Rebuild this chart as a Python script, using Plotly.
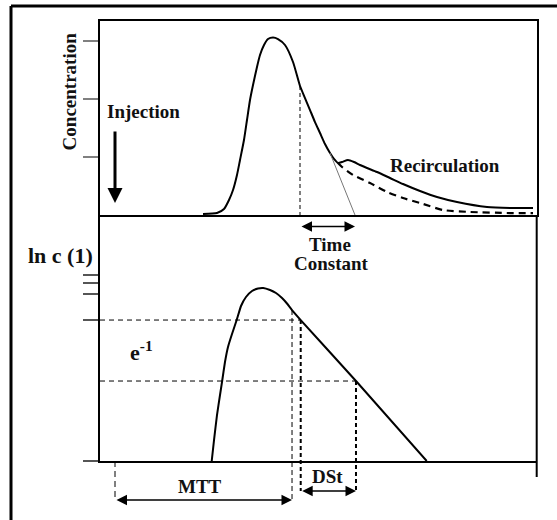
import plotly.graph_objects as go

# ---------------- data (schematic, arbitrary units) ----------------
# Upper panel: concentration-time curve with recirculation
conc_t = [23.59, 26.79, 28.39, 29.54, 30.46, 31.37, 32.06, 32.97, 33.66, 34.35,
          35.04, 35.95, 36.64, 37.56, 38.47, 39.62, 40.76, 42.36, 44.20,
          45.80, 46.94, 48.09, 49.23, 50.38, 51.52, 52.67, 53.58, 54.50, 55.42,
          56.79, 58.16, 59.54, 61.14, 63.43, 66.41, 69.38, 73.28, 77.17, 81.75,
          88.62, 93.89, 99.15]
conc_c = [0.017, 0.034, 0.103, 0.259, 0.431, 0.690, 0.948, 1.293, 1.638, 1.983,
          2.241, 2.552, 2.759, 2.931, 3.034, 3.060, 3.034, 2.931, 2.638,
          2.224, 2.017, 1.810, 1.603, 1.414, 1.224, 1.069, 0.966, 0.897, 0.914,
          0.948, 0.914, 0.862, 0.810, 0.741, 0.638, 0.534, 0.414, 0.310, 0.224,
          0.138, 0.121, 0.121]
# first-pass curve without recirculation (dashed)
firstpass_t = [54.50, 55.42, 57.93, 61.83, 65.72, 69.38, 73.28, 78.54, 84.73, 93.89, 99.15]
firstpass_c = [0.897, 0.828, 0.690, 0.552, 0.397, 0.293, 0.207, 0.086, 0.052, 0.034, 0.034]
# tangent (time constant construction)
tangent_t = [52.67, 58.39]
tangent_c = [1.069, 0.0]
conc_ticks = [1, 2, 3]

# Lower panel: ln c versus time
ln_t = [25.58, 26.11, 26.79, 27.48, 27.94, 28.62, 29.31, 30.23, 31.30, 32.29,
        33.43, 34.81, 36.18, 37.39, 38.93, 40.30, 41.68, 42.82, 43.97, 45.96,
        58.62, 74.81]
ln_c = [0.0, 0.344, 0.754, 1.082, 1.295, 1.623, 1.869, 2.082, 2.311, 2.541,
        2.689, 2.787, 2.828, 2.836, 2.803, 2.754, 2.672, 2.582, 2.475, 2.311,
        1.311, 0.0]
ln_ticks = [0, 2.311, 2.738, 2.918, 3.049]

# characteristic times / levels
t_inject = 3.435
t_mtt = 43.97
ln_mtt = 2.475
t_dst0, ln_dst0 = 45.96, 2.311
t_dst1, ln_dst1 = 58.62, 1.311
t_tc0, c_tc0 = 45.80, 2.224
t_tc1 = 58.39
inject_top, inject_tip = 1.466, 0.207
row_tc, row_mtt, row_dst = 3.844, -0.639, -0.492

# ---------------- layout geometry ----------------
W, H = 557, 520
x_dom = [100 / W, 536.7 / W]
up_dom = [(H - 215) / H, (H - 21) / H]
lo_dom = [(H - 461) / H, (H - 215) / H]
x_range = [0, 100]
up_range = [0, 3.345]
lo_range = [0, 4.033]
ppu = (lo_dom[1] - lo_dom[0]) * H / (lo_range[1] - lo_range[0])
ov_range = [lo_range[0] - lo_dom[0] * H / ppu, lo_range[1] + (1 - lo_dom[1]) * H / ppu]

FONT = "Liberation Serif"
TXT = "#111111"

fig = go.Figure()

# upper panel
fig.add_trace(go.Scatter(x=conc_t, y=conc_c, mode="lines", xaxis="x", yaxis="y",
                         line=dict(color="black", width=2, shape="spline", smoothing=0.6)))
fig.add_trace(go.Scatter(x=firstpass_t, y=firstpass_c, mode="lines", xaxis="x", yaxis="y",
                         line=dict(color="black", width=2.2, dash="7px,5px", shape="spline", smoothing=0.6)))
fig.add_trace(go.Scatter(x=tangent_t, y=tangent_c, mode="lines", xaxis="x", yaxis="y",
                         line=dict(color="#777777", width=1)))
fig.add_trace(go.Scatter(x=[t_tc0, t_tc0], y=[c_tc0, 0], mode="lines", xaxis="x", yaxis="y",
                         line=dict(color="black", width=1, dash="4px,3px")))

# lower panel
fig.add_trace(go.Scatter(x=ln_t, y=ln_c, mode="lines", xaxis="x2", yaxis="y2",
                         line=dict(color="black", width=2, shape="spline", smoothing=0.4)))
fig.add_trace(go.Scatter(x=[0, t_dst0], y=[ln_dst0, ln_dst0], mode="lines", xaxis="x2", yaxis="y2",
                         line=dict(color="black", width=1, dash="5px,4px")))
fig.add_trace(go.Scatter(x=[0, t_dst1], y=[ln_dst1, ln_dst1], mode="lines", xaxis="x2", yaxis="y2",
                         line=dict(color="black", width=1, dash="5px,4px")))

# overlay guides (extend below the lower panel)
fig.add_trace(go.Scatter(x=[t_mtt, t_mtt], y=[ln_mtt, row_mtt], mode="lines", xaxis="x3", yaxis="y3",
                         line=dict(color="black", width=1, dash="5px,3px")))
fig.add_trace(go.Scatter(x=[t_inject, t_inject], y=[0, row_mtt], mode="lines", xaxis="x3", yaxis="y3",
                         line=dict(color="black", width=1, dash="6px,4px")))
fig.add_trace(go.Scatter(x=[t_dst0, t_dst0], y=[ln_dst0, row_dst], mode="lines", xaxis="x3", yaxis="y3",
                         line=dict(color="black", width=2, dash="4px,3px")))
fig.add_trace(go.Scatter(x=[t_dst1, t_dst1], y=[ln_dst1, row_dst], mode="lines", xaxis="x3", yaxis="y3",
                         line=dict(color="black", width=2, dash="4px,3px")))

ann = []
def arrow(x0, x1, y, xr, yr, both=True, w=1.5):
    ann.append(dict(x=x1, y=y, ax=x0, ay=y, xref=xr, yref=yr, axref=xr, ayref=yr,
                    showarrow=True, arrowhead=2, arrowsize=1.4, arrowwidth=w,
                    arrowside="end+start" if both else "end", standoff=0, startstandoff=0,
                    arrowcolor="black", text=""))

arrow(t_tc0, t_tc1, row_tc, "x3", "y3")
arrow(t_inject, t_mtt, row_mtt, "x3", "y3")
arrow(t_dst0, t_dst1, row_dst, "x3", "y3")
ann.append(dict(x=t_inject, y=inject_tip, ax=t_inject, ay=inject_top, xref="x", yref="y",
                axref="x", ayref="y", showarrow=True, arrowhead=2, arrowsize=1, arrowwidth=3,
                standoff=0, arrowcolor="black", text=""))

def label(text, x, y, xr, yr, size=19, xanchor="center", angle=0):
    ann.append(dict(text=text, x=x, y=y, xref=xr, yref=yr, showarrow=False,
                    xanchor=xanchor, yanchor="middle", textangle=angle,
                    font=dict(family=FONT, size=size, color=TXT, weight="bold")))

label("Concentration", 69.7 / W, 1 - 91.7 / H, "paper", "paper", angle=-90)
label("Injection", 1.2, 1.776, "x", "y", xanchor="left")
label("Recirculation", 65.95, 0.862, "x", "y", xanchor="left")
label("Time", 52.67, 3.557, "x3", "y3")
label("Constant", 52.9, 3.246, "x3", "y3")
label("ln c (1)", 60 / W, 1 - 255 / H, "paper", "paper", size=22)
label("e<sup>-1</sup>", 9.55, 1.803, "x2", "y2", size=22)
label("MTT", 22.9, -0.421, "x3", "y3")
label("DSt", 52.1, -0.257, "x3", "y3")
label("t", 100.07, -0.475, "x3", "y3", size=21)

shapes = [
    # outer frame (left and top)
    dict(type="line", xref="paper", yref="paper", x0=11 / W, x1=11 / W, y0=0, y1=1 - 6 / H,
         line=dict(color="black", width=3)),
    dict(type="line", xref="paper", yref="paper", x0=11 / W, x1=1, y0=1 - 6 / H, y1=1 - 6 / H,
         line=dict(color="black", width=3)),
    # right edge of lower panel continuing to the t mark
    dict(type="line", xref="paper", yref="paper", x0=x_dom[1], x1=x_dom[1], y0=(H - 477) / H, y1=lo_dom[1],
         line=dict(color="black", width=2)),
]

ax_common = dict(showgrid=False, zeroline=False, showticklabels=False)
fig.update_layout(
    width=W, height=H, autosize=False,
    margin=dict(l=0, r=0, t=0, b=0),
    paper_bgcolor="white", plot_bgcolor="rgba(0,0,0,0)",
    showlegend=False,
    xaxis=dict(domain=x_dom, range=x_range, anchor="y", showline=True, mirror=True,
               linecolor="black", linewidth=2, ticks="", **ax_common),
    yaxis=dict(domain=up_dom, range=up_range, anchor="x", showline=True, mirror=True,
               linecolor="black", linewidth=2, ticks="outside", ticklen=15, tickwidth=1.5,
               tickcolor="#808080", tickvals=conc_ticks, **ax_common),
    xaxis2=dict(domain=x_dom, range=x_range, anchor="y2", showline=True,
                linecolor="black", linewidth=2, ticks="", **ax_common),
    yaxis2=dict(domain=lo_dom, range=lo_range, anchor="x2", showline=True,
                linecolor="black", linewidth=2.5, ticks="outside", ticklen=15, tickwidth=1.5,
                tickcolor="#555555", tickvals=ln_ticks, **ax_common),
    xaxis3=dict(domain=x_dom, range=x_range, anchor="y3", visible=False),
    yaxis3=dict(domain=[0, 1], range=ov_range, anchor="x3", visible=False),
    annotations=ann, shapes=shapes,
)

fig.write_html("out.html", config={"displayModeBar": False, "staticPlot": True},
               post_script="document.body.style.margin='0';document.body.style.overflow='hidden';")
